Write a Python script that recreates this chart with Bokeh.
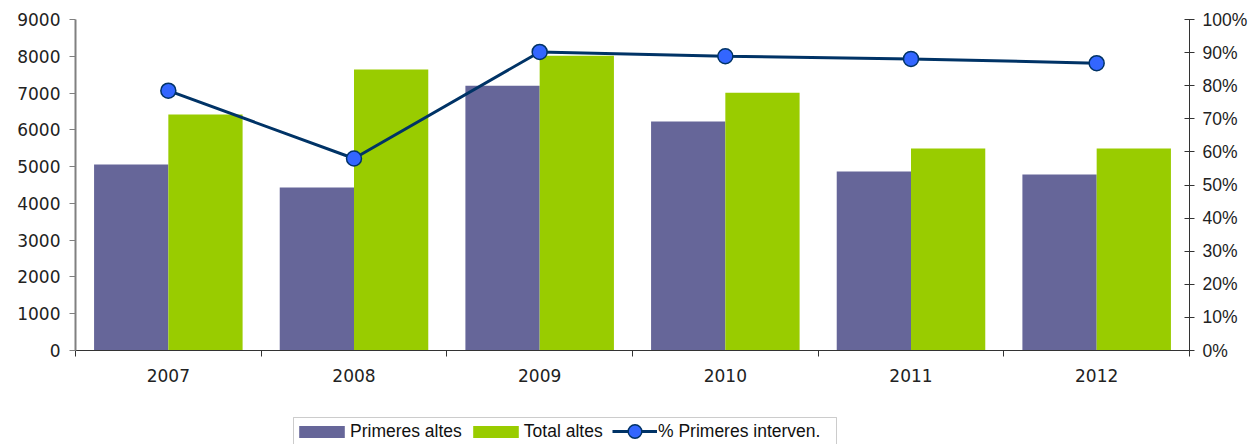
from bokeh.plotting import figure
from bokeh.layouts import column
from bokeh.models import (Range1d, LinearAxis, FixedTicker, Legend, LegendItem,
                          ColumnDataSource, NumeralTickFormatter, BoxAnnotation)
from bokeh.transform import dodge
from bokeh.embed import file_html
from bokeh.resources import INLINE

years = ["2007", "2008", "2009", "2010", "2011", "2012"]
primeres_altes = [5055, 4430, 7200, 6225, 4865, 4785]
total_altes = [6415, 7640, 8015, 7010, 5490, 5490]
pct_primeres = [0.785, 0.58, 0.902, 0.889, 0.881, 0.868]
left_ticks = [0, 1000, 2000, 3000, 4000, 5000, 6000, 7000, 8000, 9000]
right_ticks = [0, 0.1, 0.2, 0.3, 0.4, 0.5, 0.6, 0.7, 0.8, 0.9, 1.0]
series_names = ["Primeres altes", "Total altes", "% Primeres interven."]

COL_P = "#666699"
COL_T = "#99CC00"
COL_LINE = "#003366"
COL_MARK = "#3366FF"

xpos = [i + 0.5 for i in range(len(years))]
src = ColumnDataSource(dict(x=xpos, p=primeres_altes, t=total_altes, pct=pct_primeres))

p = figure(width=1251, height=405, output_backend="svg", toolbar_location=None,
           x_range=Range1d(0, len(years)), y_range=Range1d(0, 9000),
           min_border_left=75, min_border_right=62, min_border_top=19, min_border_bottom=55)
p.extra_y_ranges = {"pct": Range1d(0, 1)}
p.outline_line_color = None
p.xgrid.visible = False
p.ygrid.visible = False
p.background_fill_color = "white"
p.border_fill_color = "white"

FONT_A = "DejaVu Sans"
FONT_B = "Liberation Sans"

p.vbar(x=dodge("x", -0.2, range=p.x_range), top="p", width=0.4, source=src,
       fill_color=COL_P, line_color=None)
p.vbar(x=dodge("x", 0.2, range=p.x_range), top="t", width=0.4, source=src,
       fill_color=COL_T, line_color=None)
p.line(x="x", y="pct", source=src, y_range_name="pct", line_color=COL_LINE, line_width=3)
p.scatter(x="x", y="pct", source=src, y_range_name="pct", size=15,
          fill_color=COL_MARK, line_color=COL_LINE, line_width=1.5)

# x axis
xa = p.xaxis[0]
xa.ticker = FixedTicker(ticks=xpos, minor_ticks=list(range(len(years) + 1)))
xa.major_label_overrides = {x: y for x, y in zip(xpos, years)}
xa.major_tick_line_color = None
xa.minor_tick_in = 0
xa.minor_tick_out = 6
xa.minor_tick_line_color = "#333333"
xa.axis_line_color = "#333333"
xa.major_label_text_font = FONT_A
xa.major_label_text_font_size = "17px"
xa.major_label_text_color = "#222222"
xa.major_label_standoff = 12

# left axis
ya = p.yaxis[0]
ya.ticker = FixedTicker(ticks=left_ticks)
ya.minor_tick_line_color = None
ya.major_tick_in = 0
ya.major_tick_out = 6
ya.major_tick_line_color = "#808080"
ya.axis_line_color = "#808080"
ya.axis_line_width = 2
ya.major_label_text_font = FONT_A
ya.major_label_text_font_size = "17px"
ya.major_label_text_color = "#222222"
ya.major_label_standoff = 9

# right axis
ra = LinearAxis(y_range_name="pct", ticker=FixedTicker(ticks=right_ticks),
                formatter=NumeralTickFormatter(format="0%"))
ra.minor_tick_line_color = None
ra.major_tick_in = 5
ra.major_tick_out = 5
ra.major_tick_line_color = "#333333"
ra.axis_line_color = "#333333"
ra.major_label_text_font = FONT_B
ra.major_label_text_font_size = "17.5px"
ra.major_label_text_color = "#222222"
ra.major_label_standoff = 8
p.add_layout(ra, "right")

# legend strip (separate figure holding the legend keys; keys carry no visible data)
nan = float("nan")
lg = figure(width=1251, height=39, output_backend="svg", toolbar_location=None,
            x_range=Range1d(0, 1), y_range=Range1d(0, 1),
            x_axis_location=None, y_axis_location=None,
            min_border_left=0, min_border_right=0, min_border_top=0, min_border_bottom=0)
lg.grid.visible = False
lg.outline_line_color = None
k1 = lg.vbar(x=[nan], top=[nan], width=0.1, fill_color=COL_P, line_color=None)
k2 = lg.vbar(x=[nan], top=[nan], width=0.1, fill_color=COL_T, line_color=None)
k3 = lg.line(x=[nan], y=[nan], line_color=COL_LINE, line_width=3)
k4 = lg.scatter(x=[nan], y=[nan], size=14, fill_color=COL_MARK, line_color=COL_LINE, line_width=1.5)

# legend frame box
lg.add_layout(BoxAnnotation(left=293, right=836, top=12, bottom=60,
                            left_units="canvas", right_units="canvas",
                            top_units="canvas", bottom_units="canvas",
                            fill_alpha=0, line_color="#555555", line_width=1))


def style(leg):
    leg.label_text_font = FONT_B
    leg.label_text_font_size = "17.5px"
    leg.label_text_color = "#111111"
    leg.padding = 0
    leg.margin = 0
    leg.border_line_color = None
    leg.background_fill_alpha = 0


legA = Legend(items=[
    LegendItem(label=series_names[0], renderers=[k1]),
    LegendItem(label=series_names[1], renderers=[k2]),
], orientation="horizontal", location=(218, 2))
style(legA)
legA.glyph_width = 57
legA.glyph_height = 15
legA.label_standoff = 0
legA.spacing = 5
lg.add_layout(legA, "center")

legB = Legend(items=[
    LegendItem(label=series_names[2], renderers=[k3, k4]),
], orientation="horizontal", location=(537, -4))
style(legB)
legB.glyph_width = 45
legB.glyph_height = 34
legB.label_standoff = 1
legB.spacing = 0
lg.add_layout(legB, "center")

layout = column(p, lg, spacing=0)
open("out.html", "w").write(file_html(layout, INLINE))
